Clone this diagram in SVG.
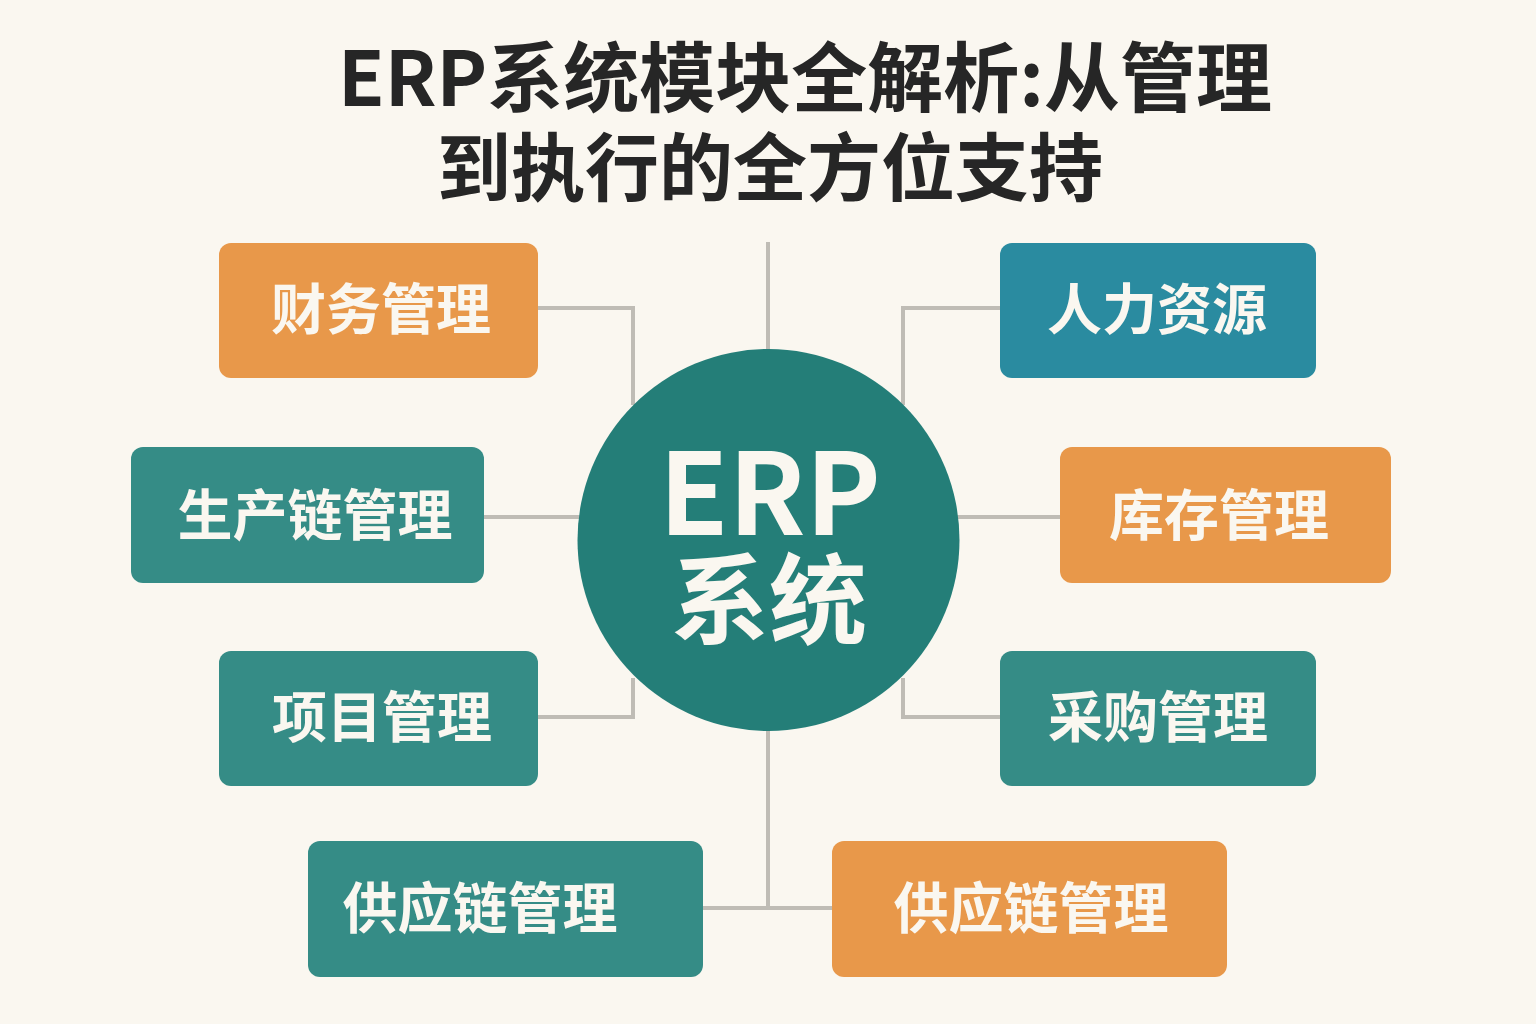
<svg xmlns="http://www.w3.org/2000/svg" width="1536" height="1024" viewBox="0 0 1536 1024">
<style>
.bg{fill:#FAF7F0}
.title{font-family:"Noto Sans CJK SC","Noto Sans",sans-serif;font-weight:700;fill:#262626}
.orange{fill:#E8984A}
.teal{fill:#358C86}
.blue{fill:#2A8BA0}
.lbl{font-family:"Noto Sans CJK SC","Noto Sans",sans-serif;font-weight:700;font-size:55px;fill:#FAF7F0;text-anchor:middle}
.conn{fill:none;stroke:#BFBCB5;stroke-width:4}
.hub{fill:#247E78}
.hubtxt{font-family:"Noto Sans CJK SC","Noto Sans",sans-serif;font-weight:700;fill:#FAF7F0;text-anchor:middle}
</style>
<rect class="bg" width="1536" height="1024"/>
<g id="title">
<text class="title" x="805" y="106" text-anchor="middle" font-size="76">ERP系统模块全解析:从管理</text>
<text class="title" x="770" y="195" text-anchor="middle" font-size="74">到执行的全方位支持</text>
</g>
<g id="connectors">
<line class="conn" x1="768" y1="242" x2="768" y2="352"/>
<polyline class="conn" points="538,308 633,308 633,405"/>
<polyline class="conn" points="538,717 633,717 633,678"/>
<line class="conn" x1="484" y1="517" x2="580" y2="517"/>
<line class="conn" x1="957" y1="517" x2="1060" y2="517"/>
<polyline class="conn" points="1000,308 903,308 903,405"/>
<polyline class="conn" points="1000,717 903,717 903,678"/>
<line class="conn" x1="768" y1="728" x2="768" y2="908"/>
<line class="conn" x1="703" y1="908" x2="832" y2="908"/>
</g>
<g id="hub">
<circle class="hub" cx="768.5" cy="540" r="191"/>
<text class="hubtxt" x="770" y="535" font-size="113">ERP</text>
<text class="hubtxt" x="769" y="636" font-size="98">系统</text>
</g>
<g id="n-finance"><rect class="orange" x="219" y="243" width="319" height="135" rx="12"/><text class="lbl" x="381" y="329">财务管理</text></g>
<g id="n-hr"><rect class="blue" x="1000" y="243" width="316" height="135" rx="12"/><text class="lbl" x="1157" y="329">人力资源</text></g>
<g id="n-production"><rect class="teal" x="131" y="447" width="353" height="136" rx="12"/><text class="lbl" x="315" y="535">生产链管理</text></g>
<g id="n-inventory"><rect class="orange" x="1060" y="447" width="331" height="136" rx="12"/><text class="lbl" x="1219" y="535">库存管理</text></g>
<g id="n-project"><rect class="teal" x="219" y="651" width="319" height="135" rx="12"/><text class="lbl" x="382" y="737">项目管理</text></g>
<g id="n-purchase"><rect class="teal" x="1000" y="651" width="316" height="135" rx="12"/><text class="lbl" x="1158" y="737">采购管理</text></g>
<g id="n-supply-left"><rect class="teal" x="308" y="841" width="395" height="136" rx="12"/><text class="lbl" x="480" y="928">供应链管理</text></g>
<g id="n-supply-right"><rect class="orange" x="832" y="841" width="395" height="136" rx="12"/><text class="lbl" x="1031" y="928">供应链管理</text></g>
</svg>
